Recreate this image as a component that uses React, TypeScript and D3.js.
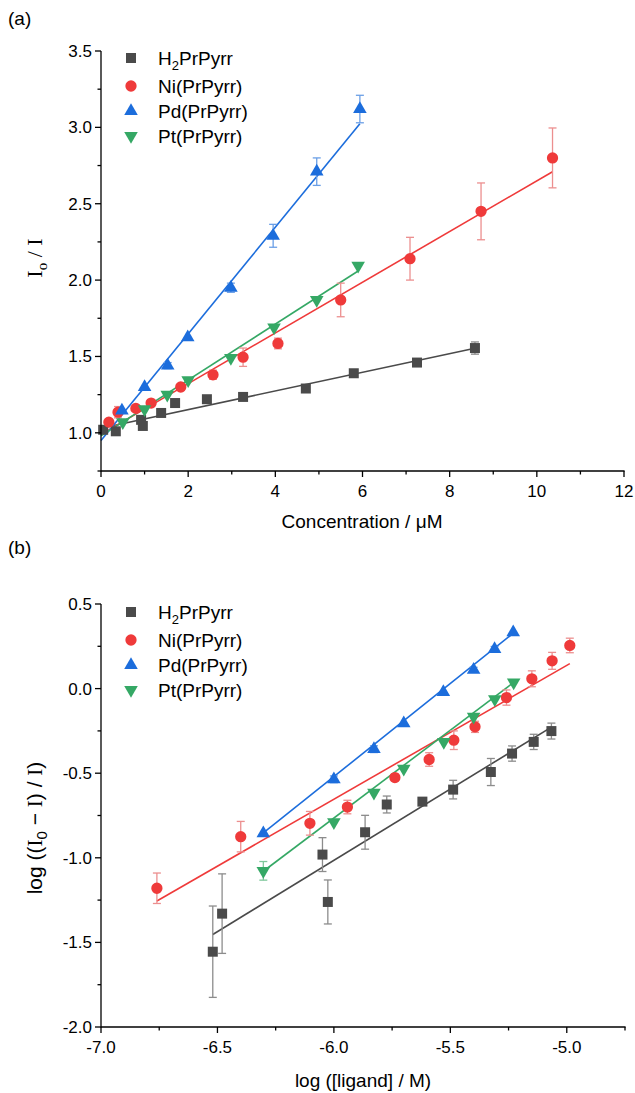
import React from 'react';
import * as d3 from 'd3';

const seriesNames = ['H2PrPyrr', 'Ni(PrPyrr)', 'Pd(PrPyrr)', 'Pt(PrPyrr)'];
const seriesColors = ['#4a4a4a', '#ef3a3a', '#1c6ddc', '#35a865'];
const errColors = ['#8c8c8c', '#ec8f8f', '#6b9fe6', '#7fc79b'];
const seriesShapes = ['square', 'circle', 'up', 'down'];

// ---------- Panel (a): I0/I vs concentration ----------
const aH2X = [0.05, 0.34, 0.92, 0.96, 1.38, 1.70, 2.43, 3.26, 4.70, 5.80, 7.25, 8.58];
const aH2Y = [1.02, 1.01, 1.085, 1.045, 1.13, 1.195, 1.22, 1.235, 1.29, 1.39, 1.46, 1.555];
const aH2E = [0, 0, 0, 0, 0, 0, 0, 0, 0, 0, 0.01, 0.04];

const aNiX = [0.18, 0.39, 0.80, 1.15, 1.83, 2.57, 3.26, 4.06, 5.50, 7.09, 8.72, 10.36];
const aNiY = [1.07, 1.135, 1.16, 1.195, 1.30, 1.38, 1.495, 1.585, 1.87, 2.14, 2.45, 2.80];
const aNiE = [0, 0.037, 0, 0, 0, 0.03, 0.06, 0.035, 0.11, 0.14, 0.186, 0.196];

const aPdX = [0.48, 1.0, 1.53, 1.99, 2.98, 3.95, 4.95, 5.94];
const aPdY = [1.145, 1.30, 1.44, 1.625, 1.95, 2.29, 2.71, 3.12];
const aPdE = [0, 0, 0.02, 0, 0.03, 0.075, 0.09, 0.09];

const aPtX = [0.5, 1.0, 1.52, 2.0, 2.98, 3.97, 4.95, 5.9];
const aPtY = [1.07, 1.155, 1.25, 1.345, 1.49, 1.69, 1.87, 2.095];
const aPtE = [0, 0, 0, 0, 0, 0, 0, 0];

const aFitSlope = [0.061, 0.166, 0.349, 0.183];
const aFitIntercept = [1.03, 0.99, 0.95, 0.98];
const aFitStart = [0, 0, 0, 0];
const aFitEnd = [8.58, 10.36, 5.94, 5.9];

const aXTicks = [0, 2, 4, 6, 8, 10, 12];
const aXMinor = [1, 3, 5, 7, 9, 11];
const aYTicks = [1.0, 1.5, 2.0, 2.5, 3.0, 3.5];
const aYMinor = [0.75, 1.25, 1.75, 2.25, 2.75, 3.25];

// ---------- Panel (b): log((I0-I)/I) vs log[ligand] ----------
const bH2X = [-6.52, -6.48, -6.049, -6.026, -5.866, -5.773, -5.62, -5.488, -5.326, -5.235, -5.142, -5.066];
const bH2Y = [-1.555, -1.33, -0.981, -1.261, -0.849, -0.685, -0.668, -0.597, -0.493, -0.384, -0.315, -0.251];
const bH2E = [0.27, 0.235, 0.10, 0.13, 0.10, 0.05, 0.0, 0.055, 0.08, 0.045, 0.045, 0.047];

const bNiX = [-6.76, -6.40, -6.103, -5.942, -5.738, -5.591, -5.485, -5.394, -5.259, -5.150, -5.063, -4.987];
const bNiY = [-1.18, -0.875, -0.796, -0.70, -0.526, -0.419, -0.305, -0.226, -0.053, 0.058, 0.164, 0.255];
const bNiE = [0.09, 0.09, 0.07, 0.04, 0.02, 0.04, 0.055, 0.033, 0.045, 0.047, 0.05, 0.043];

const bPdX = [-6.303, -6.0, -5.828, -5.70, -5.53, -5.40, -5.31, -5.23];
const bPdY = [-0.855, -0.536, -0.358, -0.205, -0.021, 0.111, 0.234, 0.333];
const bPdE = [0, 0.02, 0.02, 0, 0, 0.015, 0.015, 0];

const bPtX = [-6.303, -6.0, -5.828, -5.70, -5.528, -5.40, -5.309, -5.228];
const bPtY = [-1.077, -0.79, -0.615, -0.473, -0.315, -0.166, -0.063, 0.036];
const bPtE = [0.055, 0, 0, 0, 0, 0, 0, 0];

const bFitSlope = [0.843, 0.791, 1.10, 1.038];
const bFitIntercept = [4.043, 4.092, 6.08, 5.463];
const bFitStart = [-6.52, -6.76, -6.303, -6.303];
const bFitEnd = [-5.066, -4.987, -5.23, -5.228];

const bXTicks = [-7.0, -6.5, -6.0, -5.5, -5.0];
const bXMinor = [-6.75, -6.25, -5.75, -5.25, -4.75];
const bYTicks = [-2.0, -1.5, -1.0, -0.5, 0.0, 0.5];
const bYMinor = [-1.75, -1.25, -0.75, -0.25, 0.25];

const SANS = 'Arial, "Liberation Sans", sans-serif';
const SERIF = '"Times New Roman", "Liberation Serif", serif';

type Ser = { x: number[]; y: number[]; e: number[] };

function markerPath(shape: string): { d: string; rot: number } {
  if (shape === 'square') return { d: d3.symbol(d3.symbolSquare, 100)()!, rot: 0 };
  if (shape === 'circle') return { d: d3.symbol(d3.symbolCircle, 100)()!, rot: 0 };
  if (shape === 'up') return { d: d3.symbol(d3.symbolTriangle, 80)()!, rot: 0 };
  return { d: d3.symbol(d3.symbolTriangle, 80)()!, rot: 180 };
}

function Marker({ shape, color, x, y }: { shape: string; color: string; x: number; y: number }) {
  const m = markerPath(shape);
  return <path d={m.d} fill={color} transform={`translate(${x},${y}) rotate(${m.rot})`} />;
}

function Panel(props: {
  x: d3.ScaleLinear<number, number>;
  y: d3.ScaleLinear<number, number>;
  series: Ser[];
  fitSlope: number[];
  fitIntercept: number[];
  fitStart: number[];
  fitEnd: number[];
  xTicks: number[];
  xMinor: number[];
  yTicks: number[];
  yMinor: number[];
  xFmt: (v: number) => string;
  yFmt: (v: number) => string;
  legendY: number[];
}) {
  const { x, y, series } = props;
  const [x0, x1] = x.range();
  const [y0, y1] = y.range();
  const line = d3.line<[number, number]>().x((d) => x(d[0])).y((d) => y(d[1]));
  return (
    <g>
      {series.map((s, i) => {
        const a = props.fitStart[i];
        const b = props.fitEnd[i];
        const pts: [number, number][] = [
          [a, props.fitSlope[i] * a + props.fitIntercept[i]],
          [b, props.fitSlope[i] * b + props.fitIntercept[i]],
        ];
        return <path key={'l' + i} d={line(pts)!} stroke={seriesColors[i]} strokeWidth={1.6} fill="none" />;
      })}
      {series.map((s, i) =>
        s.x.map((xv, j) =>
          s.e[j] > 0 ? (
            <g key={'e' + i + '-' + j} stroke={errColors[i]} strokeWidth={1.3}>
              <line x1={x(xv)} x2={x(xv)} y1={y(s.y[j] - s.e[j])} y2={y(s.y[j] + s.e[j])} />
              <line x1={x(xv) - 4} x2={x(xv) + 4} y1={y(s.y[j] - s.e[j])} y2={y(s.y[j] - s.e[j])} />
              <line x1={x(xv) - 4} x2={x(xv) + 4} y1={y(s.y[j] + s.e[j])} y2={y(s.y[j] + s.e[j])} />
            </g>
          ) : null
        )
      )}
      {series.map((s, i) =>
        s.x.map((xv, j) => <Marker key={'m' + i + '-' + j} shape={seriesShapes[i]} color={seriesColors[i]} x={x(xv)} y={y(s.y[j])} />)
      )}
      <g stroke="#000" strokeWidth={1.3}>
        <line x1={x0} x2={x1 + 0.6} y1={y0} y2={y0} />
        <line x1={x0} x2={x0} y1={y0 + 0.6} y2={y1} />
        {props.xTicks.map((t) => (
          <line key={'xt' + t} x1={x(t)} x2={x(t)} y1={y0} y2={y0 + 6} />
        ))}
        {props.xMinor.map((t) => (
          <line key={'xm' + t} x1={x(t)} x2={x(t)} y1={y0} y2={y0 + 3.5} />
        ))}
        {props.yTicks.map((t) => (
          <line key={'yt' + t} x1={x0} x2={x0 - 6} y1={y(t)} y2={y(t)} />
        ))}
        {props.yMinor.map((t) => (
          <line key={'ym' + t} x1={x0} x2={x0 - 3.5} y1={y(t)} y2={y(t)} />
        ))}
      </g>
      <g fontFamily={SANS} fontSize={17} fill="#000">
        {props.xTicks.map((t) => (
          <text key={'xl' + t} x={x(t)} y={y0 + 26} textAnchor="middle">
            {props.xFmt(t)}
          </text>
        ))}
        {props.yTicks.map((t) => (
          <text key={'yl' + t} x={x0 - 9} y={y(t) + 6} textAnchor="end">
            {props.yFmt(t)}
          </text>
        ))}
      </g>
      <g fontFamily={SANS} fontSize={19} fill="#000">
        {seriesNames.map((n, i) => (
          <g key={'lg' + i}>
            <Marker shape={seriesShapes[i]} color={seriesColors[i]} x={131} y={props.legendY[i]} />
            <text x={158} y={props.legendY[i] + 7}>
              {i === 0 ? (
                <>
                  H<tspan dy={5} fontSize={13}>2</tspan>
                  <tspan dy={-5}>PrPyrr</tspan>
                </>
              ) : (
                n
              )}
            </text>
          </g>
        ))}
      </g>
    </g>
  );
}

export default function App() {
  const ax = d3.scaleLinear().domain([0, 12]).range([101, 624]);
  const ay = d3.scaleLinear().domain([0.75, 3.5]).range([471, 51]);
  const bx = d3.scaleLinear().domain([-7, -4.75]).range([101, 625]);
  const by = d3.scaleLinear().domain([-2, 0.5]).range([1027, 604]);

  const aSeries: Ser[] = [
    { x: aH2X, y: aH2Y, e: aH2E },
    { x: aNiX, y: aNiY, e: aNiE },
    { x: aPdX, y: aPdY, e: aPdE },
    { x: aPtX, y: aPtY, e: aPtE },
  ];
  const bSeries: Ser[] = [
    { x: bH2X, y: bH2Y, e: bH2E },
    { x: bNiX, y: bNiY, e: bNiE },
    { x: bPdX, y: bPdY, e: bPdE },
    { x: bPtX, y: bPtY, e: bPtE },
  ];

  return (
    <svg width={635} height={1093} style={{ position: 'absolute', left: 0, top: 0, background: '#fff' }}>
      <rect width={635} height={1093} fill="#fff" />
      <text x={8} y={25} fontFamily={SANS} fontSize={19}>(a)</text>
      <text x={8} y={554} fontFamily={SANS} fontSize={19}>(b)</text>

      <Panel
        x={ax}
        y={ay}
        series={aSeries}
        fitSlope={aFitSlope}
        fitIntercept={aFitIntercept}
        fitStart={aFitStart}
        fitEnd={aFitEnd}
        xTicks={aXTicks}
        xMinor={aXMinor}
        yTicks={aYTicks}
        yMinor={aYMinor}
        xFmt={(v) => String(v)}
        yFmt={(v) => v.toFixed(1)}
        legendY={[58, 86, 111, 136]}
      />
      <Panel
        x={bx}
        y={by}
        series={bSeries}
        fitSlope={bFitSlope}
        fitIntercept={bFitIntercept}
        fitStart={bFitStart}
        fitEnd={bFitEnd}
        xTicks={bXTicks}
        xMinor={bXMinor}
        yTicks={bYTicks}
        yMinor={bYMinor}
        xFmt={(v) => v.toFixed(1)}
        yFmt={(v) => v.toFixed(1)}
        legendY={[612, 640, 665, 690]}
      />

      <text x={362} y={528} textAnchor="middle" fontFamily={SANS} fontSize={19}>
        Concentration / μM
      </text>
      <text x={363} y={1087} textAnchor="middle" fontFamily={SANS} fontSize={19}>
        log ([ligand] / M)
      </text>
      <text transform="translate(42,258) rotate(-90)" textAnchor="middle" fontFamily={SERIF} fontSize={22}>
        I<tspan dy={5} fontSize={15}>o</tspan>
        <tspan dy={-5}> / I</tspan>
      </text>
      <text transform="translate(42,828) rotate(-90)" textAnchor="middle" fontFamily={SANS} fontSize={21}>
        log ((<tspan fontFamily={SERIF}>I</tspan>
        <tspan dy={5} fontSize={15}>0</tspan>
        <tspan dy={-5}> − </tspan>
        <tspan fontFamily={SERIF}>I</tspan>) / <tspan fontFamily={SERIF}>I</tspan>)
      </text>
    </svg>
  );
}
